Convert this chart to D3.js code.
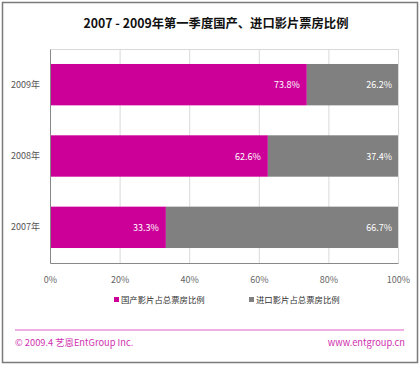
<!DOCTYPE html>
<html><head><meta charset="utf-8">
<script src="https://cdn.jsdelivr.net/npm/d3@7/dist/d3.min.js"></script>
<style>body{margin:0;background:#fff;}svg{display:block;font-family:"Noto Sans CJK SC","Noto Sans",sans-serif;}</style>
</head><body><svg id="c" width="420" height="366"></svg>
<script>
const title = "2007 - 2009年第一季度国产、进口影片票房比例";
const categories = ["2009年", "2008年", "2007年"];
const domestic = [73.8, 62.6, 33.3];
const imported = [26.2, 37.4, 66.7];
const seriesNames = ["国产影片占总票房比例", "进口影片占总票房比例"];
const colors = ["#cc0099", "#808080"];
const xTicks = [0, 20, 40, 60, 80, 100];
const footerLeft = "© 2009.4  艺恩EntGroup Inc.";
const footerRight = "www.entgroup.cn";

const svg = d3.select("#c");
svg.append("rect").attr("x", 2.5).attr("y", 2.5).attr("width", 415).attr("height", 360)
  .attr("fill", "#fff").attr("stroke", "#7a7a7a").attr("stroke-width", 1.5);

svg.append("text").attr("x", 216).attr("y", 28).attr("text-anchor", "middle")
  .attr("font-size", 12.3).attr("font-weight", "bold").attr("fill", "#111").text(title);

const m = {l: 50, t: 49, r: 398, b: 263};
const x = d3.scaleLinear().domain([0, 100]).range([m.l, m.r]);
const y = d3.scaleBand().domain(categories).range([m.t, m.b]).paddingInner(0.42).paddingOuter(0.21);

// gridlines
svg.append("g").selectAll("line").data(xTicks).join("line")
  .attr("x1", d => x(d) + 0.5).attr("x2", d => x(d) + 0.5)
  .attr("y1", m.t).attr("y2", m.b).attr("stroke", "#d9d9d9").attr("stroke-width", 1);
svg.append("line").attr("x1", m.l).attr("x2", m.r).attr("y1", m.t + 0.5).attr("y2", m.t + 0.5)
  .attr("stroke", "#d9d9d9");

// bars
const rows = categories.map((c, i) => ({c, d: domestic[i], im: imported[i]}));
const g = svg.append("g");
rows.forEach(r => {
  g.append("rect").attr("x", x(0)).attr("y", y(r.c)).attr("width", x(r.d) - x(0))
    .attr("height", y.bandwidth()).attr("fill", colors[0]);
  g.append("rect").attr("x", x(r.d)).attr("y", y(r.c)).attr("width", x(r.d + r.im) - x(r.d))
    .attr("height", y.bandwidth()).attr("fill", colors[1]);
  g.append("text").attr("x", x(r.d) - 7).attr("y", y(r.c) + y.bandwidth() / 2 + 3.5)
    .attr("text-anchor", "end").attr("font-size", 9).attr("fill", "#fff").text(r.d.toFixed(1) + "%");
  g.append("text").attr("x", x(r.d + r.im) - 6).attr("y", y(r.c) + y.bandwidth() / 2 + 3.5)
    .attr("text-anchor", "end").attr("font-size", 9).attr("fill", "#fff").text(r.im.toFixed(1) + "%");
});

// axes
const xAxis = svg.append("g").attr("transform", `translate(0,${m.b})`)
  .call(d3.axisBottom(x).tickValues(xTicks).tickFormat(d => d + "%").tickSize(0).tickPadding(14));
xAxis.select(".domain").attr("stroke", "#888");
xAxis.selectAll("text").attr("font-size", 9).attr("fill", "#666").attr("font-family", "'Noto Sans CJK SC',sans-serif");

const yAxis = svg.append("g").attr("transform", `translate(${m.l},0)`)
  .call(d3.axisLeft(y).tickSize(0).tickPadding(10));
yAxis.select(".domain").attr("stroke", "#888");
yAxis.selectAll("text").attr("font-size", 9).attr("fill", "#555").attr("font-family", "'Noto Sans CJK SC',sans-serif");

// legend
const lx = [114, 249];
seriesNames.forEach((n, i) => {
  svg.append("rect").attr("x", lx[i]).attr("y", 297).attr("width", 5).attr("height", 5).attr("fill", colors[i]);
  svg.append("text").attr("x", lx[i] + 7).attr("y", 303).attr("font-size", 8.4).attr("fill", "#333").text(n);
});

// footer
svg.append("line").attr("x1", 15).attr("x2", 404).attr("y1", 330).attr("y2", 330)
  .attr("stroke", "#e060c8").attr("stroke-width", 1.2);
svg.append("text").attr("x", 15).attr("y", 346).attr("font-size", 9.3).attr("fill", "#d030b0").text(footerLeft);
svg.append("text").attr("x", 405).attr("y", 346).attr("text-anchor", "end").attr("font-size", 9.3).attr("fill", "#d030b0").text(footerRight);
</script></body></html>
